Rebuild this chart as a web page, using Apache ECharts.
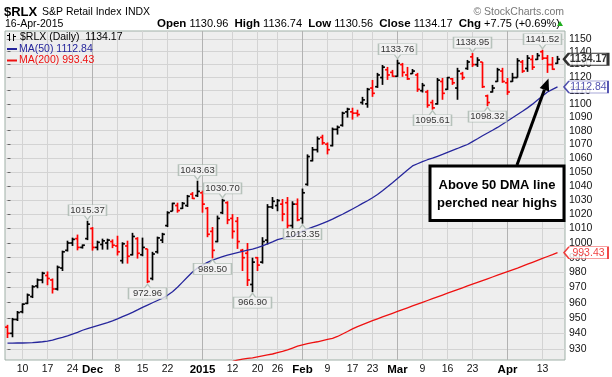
<!DOCTYPE html>
<html>
<head>
<meta charset="utf-8">
<title>$RLX S&amp;P Retail Index</title>
<script src="https://cdn.jsdelivr.net/npm/echarts@6/dist/echarts.min.js"></script>
<style>
  html, body { margin: 0; padding: 0; background: #fff; }
  #chart { width: 612px; height: 377px; }
</style>
</head>
<body>
<div id="chart"></div>
<script>
// trading days shown on the chart
const days = [
  '2014-11-05', '2014-11-06', '2014-11-07', '2014-11-10', '2014-11-11', '2014-11-12', '2014-11-13', '2014-11-14',
  '2014-11-17', '2014-11-18', '2014-11-19', '2014-11-20', '2014-11-21', '2014-11-24', '2014-11-25', '2014-11-26', '2014-11-28',
  '2014-12-01', '2014-12-02', '2014-12-03', '2014-12-04', '2014-12-05', '2014-12-08', '2014-12-09', '2014-12-10', '2014-12-11',
  '2014-12-12', '2014-12-15', '2014-12-16', '2014-12-17', '2014-12-18', '2014-12-19', '2014-12-22', '2014-12-23', '2014-12-24',
  '2014-12-26', '2014-12-29', '2014-12-30', '2014-12-31',
  '2015-01-02', '2015-01-05', '2015-01-06', '2015-01-07', '2015-01-08', '2015-01-09', '2015-01-12', '2015-01-13', '2015-01-14',
  '2015-01-15', '2015-01-16', '2015-01-20', '2015-01-21', '2015-01-22', '2015-01-23', '2015-01-26', '2015-01-27', '2015-01-28',
  '2015-01-29', '2015-01-30',
  '2015-02-02', '2015-02-03', '2015-02-04', '2015-02-05', '2015-02-06', '2015-02-09', '2015-02-10', '2015-02-11', '2015-02-12',
  '2015-02-13', '2015-02-17', '2015-02-18', '2015-02-19', '2015-02-20', '2015-02-23', '2015-02-24', '2015-02-25', '2015-02-26',
  '2015-02-27',
  '2015-03-02', '2015-03-03', '2015-03-04', '2015-03-05', '2015-03-06', '2015-03-09', '2015-03-10', '2015-03-11', '2015-03-12',
  '2015-03-13', '2015-03-16', '2015-03-17', '2015-03-18', '2015-03-19', '2015-03-20', '2015-03-23', '2015-03-24', '2015-03-25',
  '2015-03-26', '2015-03-27', '2015-03-30', '2015-03-31',
  '2015-04-01', '2015-04-02', '2015-04-06', '2015-04-07', '2015-04-08', '2015-04-09', '2015-04-10', '2015-04-13', '2015-04-14',
  '2015-04-15', '2015-04-16'
];

const opens = [
  944, 940, 949, 954, 959.5, 964, 971, 975, 978, 975,
  969, 983, 995, 1000, 1003, 997, 1003, 1010, 997, 999,
  1000, 1001, 998, 988, 998, 992, 1003, 992, 996, 976,
  994, 1002, 1012, 1022, 1026, 1024, 1026, 1034, 1033, 1035,
  1024, 1008, 1001, 1021, 1028, 1017, 1015, 995, 993, 972,
  990, 987, 1002, 1025, 1026, 1027, 1028, 1012, 1027, 1017,
  1041, 1058, 1066, 1075, 1070, 1069, 1081, 1084, 1094, 1094,
  1093, 1101, 1100, 1112, 1113, 1120, 1126, 1124, 1121, 1130,
  1122, 1123, 1122, 1110, 1109, 1101, 1100, 1117, 1111, 1119,
  1112, 1123, 1127, 1136, 1130, 1132, 1106, 1109, 1117, 1125,
  1116, 1117, 1120, 1132, 1127, 1134, 1134, 1140, 1135, 1130,
  1130.96
];
const highs = [
  945.5, 950, 954.5, 959.5, 966, 971.5, 976, 980.5, 980.7, 976,
  984.7, 994.8, 1001.6, 1003.7, 1005.8, 999, 1015.37, 1011, 1001.6, 1003,
  1003, 1002.5, 1005, 1000.5, 1001.6, 1007, 1004, 1003.7, 996, 994,
  1004.4, 1007, 1022, 1028, 1028, 1028.5, 1033.5, 1035.5, 1043.63, 1036.5,
  1025, 1011, 1019, 1030.7, 1029, 1020, 1018, 996, 1000, 990,
  990.5, 1004, 1027, 1032, 1030.6, 1030.6, 1032, 1029, 1031, 1038,
  1062.6, 1068, 1075.7, 1077, 1071.3, 1082.3, 1083.8, 1094.1, 1097.1, 1097.1,
  1095.6, 1105.3, 1112.1, 1118.2, 1123.6, 1129.7, 1128.2, 1125.9, 1133.76, 1131.3,
  1128.2, 1126.6, 1123.6, 1115.9, 1110.6, 1103.1, 1119.7, 1119.7, 1120.5, 1119.7,
  1127.5, 1124.4, 1133.6, 1138.95, 1135.7, 1132, 1107, 1114.4, 1127.5, 1127.5,
  1119.7, 1123.6, 1135, 1133.6, 1137.4, 1137.4, 1139, 1141.52, 1137.4, 1135.9,
  1136.74
];
const lows = [
  937, 937.5, 948, 953, 959, 963, 969.5, 972.8, 971.5, 966,
  968, 981, 994.2, 998, 995, 996.2, 1002, 994.8, 995, 995.5,
  995.5, 996.5, 991.5, 986, 986, 991.5, 989.4, 991, 972.96, 974.8,
  992.8, 1000, 1011, 1022, 1021, 1023.6, 1025, 1030.6, 1032, 1021,
  1004, 989.5, 1000.5, 1020, 1013, 1003, 996, 981, 971, 966.9,
  981, 986, 999, 1023.6, 1022, 1015, 1009.8, 1009, 1015, 1013.35,
  1040, 1057.5, 1064, 1069.6, 1062.6, 1068.4, 1077.1, 1083, 1089.7, 1088.2,
  1090.4, 1099.4, 1097.1, 1105.3, 1112.1, 1114.4, 1118.2, 1120.6, 1120.6, 1120.6,
  1118.2, 1122.8, 1109.1, 1108.6, 1097.1, 1095.61, 1099.4, 1103.1, 1110.6, 1114.4,
  1103.1, 1118.2, 1125.9, 1128.2, 1128.2, 1112, 1098.32, 1108.6, 1116.7, 1116,
  1106.8, 1116.7, 1120, 1123.6, 1124.4, 1125.9, 1133.6, 1133.6, 1123.6, 1125.9,
  1130.56
];
const closes = [
  940, 949, 953.5, 959, 965, 970.5, 975, 979.5, 976, 969,
  983.5, 994, 1000, 1002.5, 997, 998.5, 1013, 997, 1000.5, 1001.5,
  1002, 998.5, 994, 999.5, 991, 1004.5, 993, 997, 974, 992.5,
  1003.5, 1006, 1021, 1027.5, 1022.5, 1027.5, 1032.5, 1031, 1036, 1027,
  1006, 995, 1017, 1029.5, 1016, 1008, 1001, 990, 975, 987,
  985, 1001, 1025, 1029, 1029.5, 1020, 1012, 1027, 1016, 1035,
  1061, 1066, 1074, 1071, 1066, 1081, 1082.5, 1093, 1096, 1093,
  1092, 1103, 1111, 1108, 1122, 1128, 1122, 1121, 1131, 1124,
  1119, 1125, 1111, 1114, 1099, 1097, 1118, 1108, 1120, 1116,
  1125, 1120, 1132, 1130, 1133.5, 1113, 1101, 1112, 1126, 1117,
  1109, 1120, 1133, 1125, 1135, 1128, 1137, 1135, 1130, 1126.42,
  1134.17
];
const prevClose = 942;

const ma50 = [
  933.7, 933.7, 933.8, 933.8, 933.9, 934.0, 934.3, 934.6, 935.0, 935.6,
  936.6, 937.4, 938.4, 939.5, 940.6, 942.0, 943.0, 944.0, 945.0, 946.0,
  947.0, 948.1, 949.4, 950.8, 952.2, 953.6, 955.2, 956.9, 958.4, 959.9,
  961.4, 962.9, 964.8, 967.2, 970.2, 973.6, 977.0, 980.3, 983.0, 985.0,
  986.8, 988.3, 989.5, 990.7, 991.7, 992.6, 993.5, 994.3, 995.1, 995.9,
  996.9, 998.0, 999.4, 1000.8, 1002.3, 1003.2, 1003.8, 1004.4, 1006.3, 1008.2,
  1009.6, 1010.9, 1012.2, 1013.5, 1015.0, 1016.5, 1018.2, 1019.9, 1021.7, 1023.6,
  1025.5, 1027.5, 1029.4, 1031.5, 1033.8, 1036.5, 1039.3, 1042.2, 1045.2, 1048.3,
  1051.3, 1054.2, 1055.8, 1057.4, 1058.7, 1059.8, 1061.2, 1062.6, 1064.1, 1065.5,
  1066.9, 1068.4, 1069.8, 1071.9, 1074.0, 1076.2, 1078.3, 1080.3, 1082.4, 1084.8,
  1087.2, 1089.6, 1092.0, 1094.4, 1097.0, 1099.8, 1102.9, 1106.0, 1109.0, 1111.0,
  1112.84
];
// MA(200) only comes into view late in January
const ma200Start = 44;
const ma200 = [
  921.6, 922.2, 922.9, 923.6, 924.0, 924.4, 925.0, 925.6, 926.2, 926.8,
  927.6, 928.4, 929.4, 930.6, 931.8, 932.6, 933.4, 934.1, 934.6, 935.4,
  936.1, 936.8, 938.0, 939.6, 941.2, 942.9, 944.3, 945.6, 946.9, 948.2,
  949.4, 950.6, 951.8, 953.0, 954.2, 955.4, 956.6, 957.8, 959.0, 960.2,
  961.4, 962.6, 963.8, 965.0, 966.2, 967.4, 968.6, 969.8, 971.0, 972.2,
  973.4, 974.6, 975.8, 977.0, 978.2, 979.4, 980.6, 981.8, 983.0, 984.3,
  985.6, 986.9, 988.2, 989.5, 990.8, 992.1, 993.43
];

// x axis labels (weekly) and month starts
const tickDates = [
  '2014-11-10', '2014-11-17', '2014-11-24', '2014-12-01', '2014-12-08', '2014-12-15', '2014-12-22',
  '2015-01-02', '2015-01-12', '2015-01-20', '2015-01-26', '2015-02-02', '2015-02-09', '2015-02-17',
  '2015-02-23', '2015-03-02', '2015-03-09', '2015-03-16', '2015-03-23', '2015-04-01', '2015-04-13'
];
const tickLabels = ['10', '17', '24', 'Dec', '8', '15', '22', '2015', '12', '20', '26', 'Feb', '9', '17', '23', 'Mar', '9', '16', '23', 'Apr', '13'];
const monthDates = ['2014-12-01', '2015-01-02', '2015-02-02', '2015-03-02', '2015-04-01'];
const yTicks = [930, 940, 950, 960, 970, 980, 990, 1000, 1010, 1020, 1030, 1040, 1050, 1060, 1070, 1080, 1090, 1100, 1110, 1120, 1130, 1140, 1150];

// labelled swing highs / lows
const peakDates = ['2014-11-28', '2014-12-31', '2015-01-08', '2015-03-02', '2015-03-23', '2015-04-13'];
const troughDates = ['2014-12-16', '2015-01-06', '2015-01-16', '2015-02-02', '2015-03-11', '2015-03-26'];

const FONT = '"Liberation Sans", Arial, sans-serif';
const last = days.length - 1;
const tickIdx = tickDates.map(d => days.indexOf(d));
const monthIdx = monthDates.map(d => days.indexOf(d));

const ohlc = days.map((d, i) => [i, opens[i], highs[i], lows[i], closes[i]]);

function renderBar(params, api) {
  const i = api.value(0);
  const top = api.coord([i, api.value(2)]);
  const x = top[0];
  const yo = api.coord([i, api.value(1)])[1];
  const yl = api.coord([i, api.value(3)])[1];
  const yc = api.coord([i, api.value(4)])[1];
  const before = i === 0 ? prevClose : closes[i - 1];
  const color = api.value(4) < before ? '#ff0000' : '#000000';
  const style = { stroke: color, lineWidth: 1.7 };
  return {
    type: 'group',
    children: [
      { type: 'line', shape: { x1: x, y1: top[1], x2: x, y2: yl }, style },
      { type: 'line', shape: { x1: x - 2.4, y1: yo, x2: x, y2: yo }, style },
      { type: 'line', shape: { x1: x, y1: yc, x2: x + 2.4, y2: yc }, style }
    ]
  };
}

const calloutStyle = { color: '#f3f3f3', borderColor: '#a7b6ae', borderWidth: 1 };
const calloutLabel = {
  show: true,
  position: 'inside',
  color: '#000',
  fontSize: 9.5,
  fontFamily: FONT,
  formatter: p => p.value[1].toFixed(2)
};

function tag(value, color, bold) {
  return {
    value: [last, value],
    itemStyle: { color: '#fff', borderColor: color, borderWidth: bold ? 1.6 : 1 },
    label: { color: bold ? '#000' : color, fontWeight: bold ? 'bold' : 'normal' }
  };
}

function text(str, x, y, font, fill, align) {
  return {
    type: 'text', x, y, z: 10,
    style: { text: str, font, fill, align: align || 'left', verticalAlign: 'middle', textAlign: align || 'left', textVerticalAlign: 'middle' }
  };
}

const headerLine = '{b|Open} ' + opens[last].toFixed(2) + '  {b|High} ' + highs[last].toFixed(2) +
  '  {b|Low} ' + lows[last].toFixed(2) + '  {b|Close} ' + closes[last].toFixed(2) +
  '  {b|Chg} +' + (closes[last] - closes[last - 1]).toFixed(2) + ' (+' +
  ((closes[last] - closes[last - 1]) / closes[last - 1] * 100).toFixed(2) + '%)';

const option = {
  animation: false,
  backgroundColor: '#ffffff',
  textStyle: { fontFamily: FONT },
  grid: {
    left: 5, right: 47, top: 31, bottom: 17,
    show: true, backgroundColor: '#eeeeee', borderColor: '#9fb0a7', borderWidth: 1
  },
  xAxis: [
    {
      type: 'value', min: -0.5, max: days.length + 0.5,
      axisLine: { show: false },
      axisTick: { show: false, customValues: tickIdx },
      axisLabel: {
        customValues: tickIdx, margin: 4, color: '#111', fontSize: 10.5, fontFamily: FONT,
        formatter: v => {
          const k = tickIdx.indexOf(v);
          if (k < 0) return '';
          return monthIdx.indexOf(v) >= 0 ? '{m|' + tickLabels[k] + '}' : tickLabels[k];
        },
        rich: { m: { fontWeight: 'bold', fontSize: 11.5, fontFamily: FONT, color: '#000' } }
      },
      splitLine: { show: true, lineStyle: { color: '#d3d3d3', width: 1 } }
    },
    {
      type: 'value', min: -0.5, max: days.length + 0.5, position: 'top',
      axisLine: { show: false },
      axisTick: { show: false, customValues: monthIdx },
      axisLabel: { show: false },
      splitLine: { show: true, lineStyle: { color: '#b2b2b2', width: 1 } }
    }
  ],
  yAxis: {
    type: 'log', logBase: 10, position: 'right',
    min: 923, max: 1156.3,
    axisLine: { show: false },
    axisTick: { show: true, length: 3, customValues: yTicks, lineStyle: { color: '#666' } },
    axisLabel: {
      customValues: yTicks, margin: 4, color: '#111', fontSize: 10.5, fontFamily: FONT,
      formatter: v => String(Math.round(v))
    },
    splitLine: { show: true, lineStyle: { color: '#d3d3d3', width: 1 } }
  },
  series: [
    {
      name: 'MA(200)', type: 'line', showSymbol: false, silent: true,
      data: ma200.map((v, i) => [i + ma200Start, v]),
      lineStyle: { color: '#ee1111', width: 1.3 }
    },
    {
      name: 'MA(50)', type: 'line', showSymbol: false, silent: true,
      data: ma50.map((v, i) => [i, v]),
      lineStyle: { color: '#26269c', width: 1.3 }
    },
    {
      name: '$RLX', type: 'custom', renderItem: renderBar,
      dimensions: ['idx', 'open', 'high', 'low', 'close'],
      encode: { x: 0, y: [1, 2, 3, 4] },
      data: ohlc
    },
    {
      name: 'peaks', type: 'scatter', clip: false, z: 4,
      symbol: 'path://M0,0H38V11H22L19,15L16,11H0Z', symbolSize: [38, 15], symbolKeepAspect: false,
      symbolOffset: [0, -8.5],
      itemStyle: calloutStyle,
      label: Object.assign({ offset: [0, -2] }, calloutLabel),
      data: peakDates.map(d => [days.indexOf(d), highs[days.indexOf(d)]])
    },
    {
      name: 'troughs', type: 'scatter', clip: false, z: 4,
      symbol: 'path://M0,4H16L19,0L22,4H38V15H0Z', symbolSize: [38, 15], symbolKeepAspect: false,
      symbolOffset: [0, 8.5],
      itemStyle: calloutStyle,
      label: Object.assign({ offset: [0, 2] }, calloutLabel),
      data: troughDates.map(d => [days.indexOf(d), lows[days.indexOf(d)]])
    },
    {
      name: 'tags', type: 'scatter', clip: false, z: 6,
      symbol: 'path://M0,6L5,0H44V12H5Z', symbolSize: [44, 12], symbolKeepAspect: false,
      symbolOffset: [28.5, 0],
      label: {
        show: true, position: 'inside', offset: [2.5, 0], fontSize: 10.5, fontFamily: FONT,
        formatter: p => p.value[1].toFixed(2)
      },
      data: [
        tag(ma200[ma200.length - 1], '#ee1111', false),
        tag(ma50[last], '#26269c', false),
        tag(closes[last], '#000000', true)
      ]
    }
  ],
  graphic: [
    text('$RLX', 4, 12, 'bold 13px ' + FONT, '#000'),
    text('S&P Retail Index', 42, 12, '10.5px ' + FONT, '#000'),
    text('INDX', 125, 12, '10.5px ' + FONT, '#000'),
    text('\u00a9 StockCharts.com', 564, 12, '10.5px ' + FONT, '#777', 'right'),
    text('16-Apr-2015', 5, 24, '10.5px ' + FONT, '#000'),
    {
      type: 'text', x: 157, y: 24, z: 10,
      style: {
        text: headerLine, fill: '#000', fontSize: 11, fontFamily: FONT,
        verticalAlign: 'middle', textVerticalAlign: 'middle',
        rich: { b: { fontWeight: 'bold', fontSize: 11.5, fontFamily: FONT, fill: '#000' } }
      }
    },
    { type: 'polygon', z: 10, shape: { points: [[557, 26], [563, 26], [560, 21]] }, style: { fill: '#1fae1f' } },
    // legend block
    { type: 'line', z: 10, shape: { x1: 9.5, y1: 33, x2: 9.5, y2: 41 }, style: { stroke: '#000', lineWidth: 1 } },
    { type: 'line', z: 10, shape: { x1: 7, y1: 35.5, x2: 9.5, y2: 35.5 }, style: { stroke: '#000', lineWidth: 1 } },
    { type: 'line', z: 10, shape: { x1: 13.5, y1: 34, x2: 13.5, y2: 41 }, style: { stroke: '#000', lineWidth: 1 } },
    { type: 'line', z: 10, shape: { x1: 13.5, y1: 36.5, x2: 16, y2: 36.5 }, style: { stroke: '#000', lineWidth: 1 } },
    text('$RLX (Daily)  ' + closes[last].toFixed(2), 20, 37, '10.5px ' + FONT, '#000'),
    { type: 'rect', z: 10, shape: { x: 7, y: 48, width: 10, height: 2 }, style: { fill: '#26269c' } },
    text('MA(50) ' + ma50[last].toFixed(2), 19, 49, '10.5px ' + FONT, '#26269c'),
    { type: 'rect', z: 10, shape: { x: 7, y: 59.5, width: 10, height: 2 }, style: { fill: '#ee1111' } },
    text('MA(200) ' + ma200[ma200.length - 1].toFixed(2), 19, 60.5, '10.5px ' + FONT, '#ee1111'),
    // annotation
    { type: 'rect', z: 10, shape: { x: 430, y: 166, width: 134, height: 54.5 }, style: { fill: '#fff', stroke: '#000', lineWidth: 3 } },
    text('Above 50 DMA line', 497, 185, 'bold 13px ' + FONT, '#000', 'center'),
    text('perched near highs', 497, 203, 'bold 13px ' + FONT, '#000', 'center'),
    { type: 'line', z: 10, shape: { x1: 517, y1: 165, x2: 544.4, y2: 89.8 }, style: { stroke: '#000', lineWidth: 3 } },
    { type: 'polygon', z: 10, shape: { points: [[548.5, 78.5], [549.1, 91.5], [539.7, 88.1]] }, style: { fill: '#000' } }
  ]
};

const chart = echarts.init(document.getElementById('chart'));
chart.setOption(option);
</script>
</body>
</html>
